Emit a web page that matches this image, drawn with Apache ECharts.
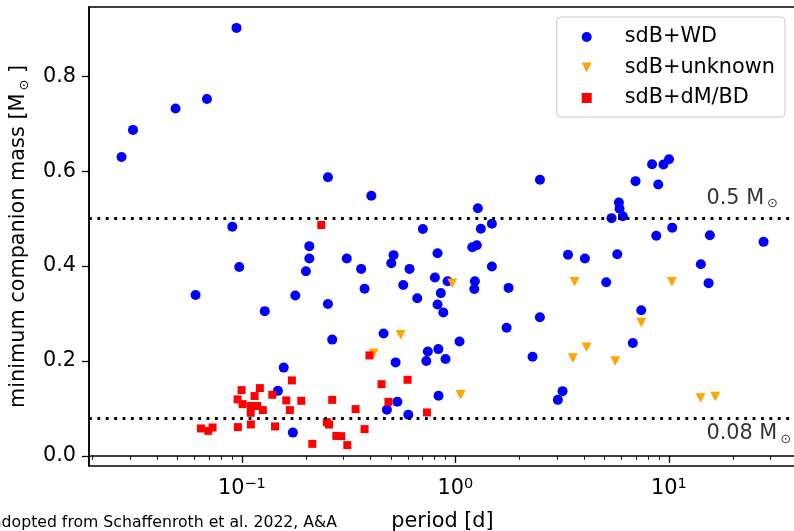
<!DOCTYPE html>
<html><head><meta charset="utf-8">
<script src="https://cdn.jsdelivr.net/npm/echarts@6/dist/echarts.min.js"></script>
<style>html,body{margin:0;padding:0;background:#fff}#c{width:794px;height:531px}</style>
</head><body><div id="c"></div>
<script>
const FONT = 'DejaVu Sans';
// sdB+WD
const wdPeriod = [0.0273,0.0309,0.0489,0.0686,0.0944,0.0902,0.0607,0.0972,0.128,0.157,0.1475,0.1733,0.178,0.1995,0.207,0.207,0.253,0.253,0.265,0.310,0.362,0.3756,0.404,0.461,0.478,0.501,0.5135,0.525,0.535,0.570,0.602,0.610,0.663,0.704,0.731,0.743,0.802,0.825,0.825,0.832,0.834,0.855,0.878,0.899,0.919,1.046,1.20,1.26,1.227,1.234,1.2745,1.316,1.483,1.483,1.738,1.775,2.299,2.49,2.488,3.02,3.177,3.37,4.043,5.088,5.39,5.733,5.833,5.875,6.087,6.78,6.98,7.425,8.344,8.73,8.92,9.434,10.02,10.37,14.12,15.35,15.56,27.77];
const wdMass = [0.630,0.687,0.732,0.752,0.902,0.483,0.339,0.398,0.305,0.186,0.137,0.049,0.338,0.389,0.442,0.416,0.587,0.320,0.245,0.416,0.394,0.352,0.548,0.258,0.097,0.406,0.423,0.197,0.114,0.360,0.0865,0.394,0.332,0.478,0.200,0.220,0.376,0.427,0.319,0.225,0.1265,0.343,0.302,0.204,0.368,0.241,0.4395,0.4437,0.3515,0.368,0.5217,0.4787,0.489,0.399,0.270,0.354,0.209,0.582,0.292,0.118,0.1364,0.424,0.416,0.366,0.501,0.425,0.534,0.521,0.505,0.238,0.579,0.307,0.6145,0.464,0.572,0.614,0.625,0.481,0.404,0.364,0.465,0.451];
// sdB+unknown
const unkPeriod = [0.414,0.554,0.967,1.058,3.55,3.615,4.117,5.61,7.425,10.33,14.08,16.5];
const unkMass = [0.216,0.255,0.364,0.129,0.206,0.367,0.229,0.200,0.281,0.367,0.122,0.125];
// sdB+dM/BD
const dmPeriod = [0.0643,0.0696,0.0729,0.0958,0.0997,0.0955,0.1008,0.1102,0.118,0.110,0.1254,0.1102,0.1147,0.1214,0.1388,0.143,0.1614,0.1678,0.1715,0.1898,0.2137,0.2355,0.25,0.256,0.265,0.277,0.292,0.3118,0.3409,0.3756,0.396,0.451,0.486,0.597,0.736];
const dmMass = [0.0577,0.0527,0.0598,0.0605,0.1385,0.119,0.109,0.105,0.105,0.0907,0.0964,0.0662,0.126,0.1428,0.1287,0.062,0.1168,0.0964,0.159,0.116,0.0253,0.4865,0.071,0.066,0.118,0.042,0.0415,0.0226,0.0985,0.0563,0.2117,0.151,0.1139,0.1603,0.0915];

const seriesNames = ['sdB+WD', 'sdB+unknown', 'sdB+dM/BD'];
const xMajorTicks = [0.1, 1, 10];
const xMinorTicks = [0.02,0.03,0.04,0.05,0.06,0.07,0.08,0.09,0.2,0.3,0.4,0.5,0.6,0.7,0.8,0.9,2,3,4,5,6,7,8,9,20,30];
const yTicks = [0, 0.2, 0.4, 0.6, 0.8];
const limitMasses = [0.5, 0.08];
const limitTexts = ['0.5', '0.08'];

const X_MIN = 0.01923, X_MAX = 39.4, Y_MIN = -0.0214, Y_MAX = 0.946;
const zip = (a, b) => a.map((v, i) => [v, b[i]]);
const triDown = 'path://M0,0L10,0L5,10Z';
const gridBox = {left: 89, top: 7, width: 707, height: 459, outerBoundsMode: 'none', containLabel: false};

const chart = echarts.init(document.getElementById('c'), null, {renderer: 'canvas'});
const supMinus = n => n < 0 ? '\u2212' + (-n) : String(n);

const option = {
  animation: false,
  backgroundColor: '#fff',
  textStyle: {fontFamily: FONT},
  grid: [
    Object.assign({show: true, borderColor: '#000', borderWidth: 1.5, backgroundColor: 'transparent'}, gridBox),
    Object.assign({show: false}, gridBox)
  ],
  xAxis: [{
    type: 'log', gridIndex: 0, min: X_MIN, max: X_MAX,
    name: 'period [d]', nameLocation: 'middle', nameGap: 45,
    nameTextStyle: {fontFamily: FONT, fontSize: 20.8, color: '#000'},
    axisLine: {show: true, lineStyle: {color: '#000', width: 1.5}},
    axisTick: {show: true, length: 7, customValues: xMajorTicks, lineStyle: {color: '#000', width: 1.3}},
    splitLine: {show: false},
    axisLabel: {
      customValues: xMajorTicks, margin: 11, color: '#000',
      formatter: v => '{b|10}{e|' + supMinus(Math.round(Math.log10(v))) + '}',
      rich: {
        b: {fontFamily: FONT, fontSize: 20.8, lineHeight: 24, color: '#000'},
        e: {fontFamily: FONT, fontSize: 14.5, lineHeight: 16, verticalAlign: 'top', color: '#000'}
      }
    }
  }, {
    type: 'log', gridIndex: 1, min: X_MIN, max: X_MAX,
    axisLine: {show: false},
    axisTick: {show: true, length: 4, customValues: xMinorTicks, lineStyle: {color: '#000', width: 1}},
    axisLabel: {show: false},
    splitLine: {show: false}
  }],
  yAxis: [{
    type: 'value', gridIndex: 0, min: Y_MIN, max: Y_MAX,
    name: '{a|minimum companion mass [M}{s|\u2299}{a| ]}',
    nameLocation: 'middle', nameGap: 58, nameRotate: 90,
    nameTextStyle: {
      fontFamily: FONT, fontSize: 20.8, color: '#000',
      rich: {
        a: {fontFamily: FONT, fontSize: 20.8, lineHeight: 24, color: '#000'},
        s: {fontFamily: FONT, fontSize: 13, lineHeight: 11, verticalAlign: 'bottom', color: '#000', padding: [0, 0, 0, 3]}
      }
    },
    axisLine: {show: true, lineStyle: {color: '#000', width: 1.5}},
    axisTick: {show: true, length: 7, customValues: yTicks, lineStyle: {color: '#000', width: 1.3}},
    splitLine: {show: false},
    axisLabel: {
      customValues: yTicks, margin: 13, color: '#000', fontFamily: FONT, fontSize: 20.8,
      formatter: v => v.toFixed(1)
    }
  }, {
    type: 'value', gridIndex: 1, min: Y_MIN, max: Y_MAX, show: false
  }],
  legend: {
    data: [
      {name: seriesNames[0], icon: 'circle'},
      {name: seriesNames[1], icon: triDown},
      {name: seriesNames[2], icon: 'rect'}
    ],
    orient: 'vertical', left: 556.7, top: 17,
    padding: [8, 10, 7, 25],
    itemWidth: 10, itemHeight: 10, itemGap: 6.5,
    borderColor: '#cccccc', borderWidth: 1, borderRadius: 4,
    backgroundColor: 'rgba(255,255,255,0.8)',
    selectedMode: false,
    textStyle: {fontFamily: FONT, fontSize: 20.8, color: '#000', lineHeight: 24, padding: [0, 0, 0, 28]}
  },
  series: [{
    name: seriesNames[0], type: 'scatter', xAxisIndex: 0, yAxisIndex: 0,
    data: zip(wdPeriod, wdMass), symbol: 'circle', symbolSize: 10, z: 2,
    itemStyle: {color: '#0000ff', opacity: 1}
  }, {
    name: seriesNames[1], type: 'scatter', xAxisIndex: 0, yAxisIndex: 0,
    data: zip(unkPeriod, unkMass), symbol: triDown, symbolSize: [10, 9.5], z: 3,
    itemStyle: {color: '#ffa500', opacity: 1}
  }, {
    name: seriesNames[2], type: 'scatter', xAxisIndex: 0, yAxisIndex: 0,
    data: zip(dmPeriod, dmMass), symbol: 'rect', symbolSize: 8, z: 4,
    itemStyle: {color: '#ff0000', opacity: 1}
  }, {
    name: 'limits', type: 'scatter', xAxisIndex: 0, yAxisIndex: 0, z: 5, silent: true,
    symbolSize: 0,
    data: limitMasses.map((m, i) => ({value: [15, m], txt: limitTexts[i]})),
    label: {
      show: true, position: 'right', distance: 0,
      formatter: p => '{a|' + p.data.txt + ' M}{s|\u2299}',
      rich: {
        a: {fontFamily: FONT, fontSize: 20.8, lineHeight: 24, color: '#000'},
        s: {fontFamily: FONT, fontSize: 13, lineHeight: 11, verticalAlign: 'bottom', color: '#000', padding: [0, 0, 0, 3]}
      }
    },
    labelLayout: p => ({dy: p.dataIndex === 0 ? -20 : 16}),
    markLine: {
      silent: true, symbol: ['none', 'none'], z: 5,
      label: {show: false},
      lineStyle: {color: '#000', width: 2.8, type: [2.8, 5.6], cap: 'butt'},
      data: limitMasses.map(m => ({yAxis: m}))
    }
  }],
  graphic: [{
    type: 'text', left: -8, top: 515,
    style: {text: 'adopted from Schaffenroth et al. 2022, A&A', fontFamily: FONT, fontSize: 15.7, fill: '#000'}
  }]
};
chart.setOption(option);
</script></body></html>
